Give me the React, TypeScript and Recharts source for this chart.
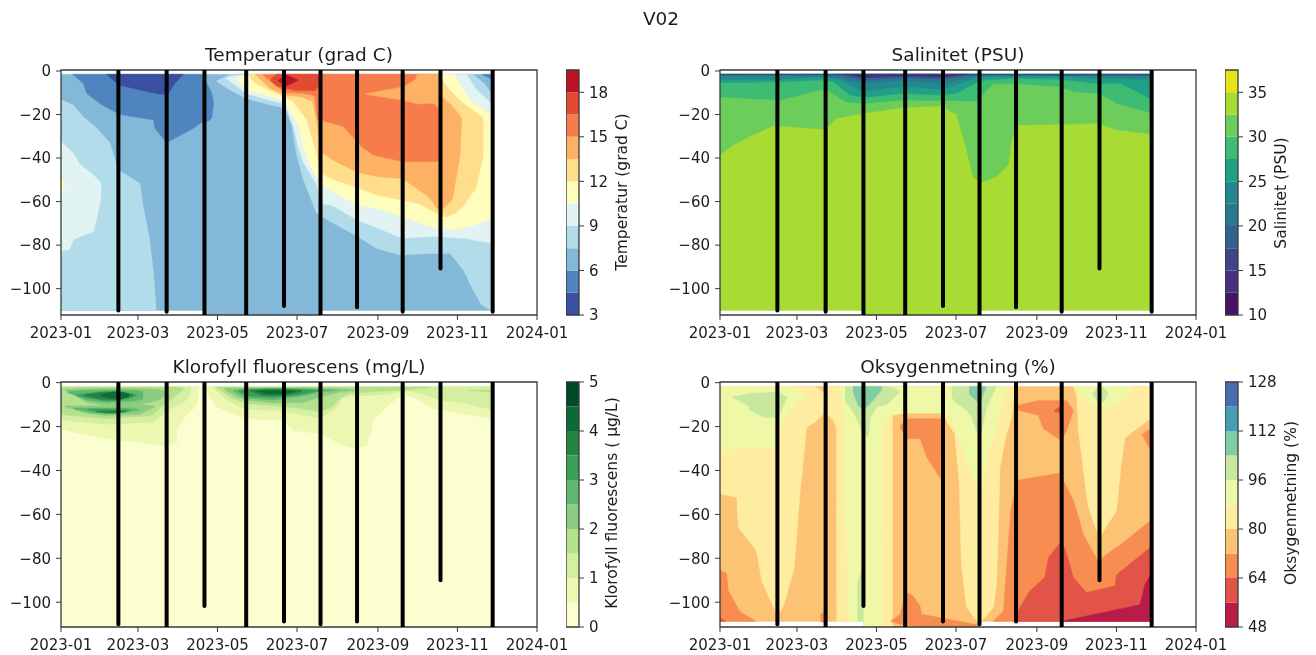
import { Area, ComposedChart, Line, ReferenceArea, XAxis, YAxis } from "recharts";

type Row = [number, number, number]; // day of 2023, top depth, bottom depth

const monthDays = [0, 59, 120, 181, 243, 304, 365];
const monthLabels = ["2023-01", "2023-03", "2023-05", "2023-07", "2023-09", "2023-11", "2024-01"];
const depthTicks = [-100, -80, -60, -40, -20, 0];
const castDays = [44, 81, 110, 142, 171, 199, 227, 262, 291, 331];
const castTops = [0, 0, 0, 0.4, 0.4, 0, 0, 0.4, 0, 0.4];
const castBottomsTop = [-110, -110.6, -112.2, -112.2, -108, -112.2, -108.5, -110.6, -90.7, -110.6];
const castBottomsLow = [-110, -111.3, -101.7, -111.3, -108.8, -110, -108.8, -111.3, -90, -111.3];

const tempColors = ["#3b4fa1", "#4f85bf", "#83b8d8", "#b3dcea", "#e2f3f3", "#fefdbd", "#fedd8b", "#fdb163", "#f67c4b", "#e14a33", "#b91326"];
const tempLevels = [3, 4.5, 6, 7.5, 9, 10.5, 12, 13.5, 15, 16.5, 18, 19.5];
const tempTicks = [3, 6, 9, 12, 15, 18];
const salColors = ["#471365", "#47307f", "#414488", "#33638d", "#2a788e", "#23898e", "#1fa187", "#3fbc73", "#6ccd5a", "#a8db34", "#e5e419"];
const salLevels = [10, 12.5, 15, 17.5, 20, 22.5, 25, 27.5, 30, 32.5, 35, 37.5];
const salTicks = [10, 15, 20, 25, 30, 35];
const chlColors = ["#fbfecf", "#ecf8b1", "#d5efa0", "#b5e08e", "#8bcd80", "#5eb86f", "#39a056", "#258340", "#0b6b37", "#004a29"];
const chlLevels = [0, 0.5, 1, 1.5, 2, 2.5, 3, 3.5, 4, 4.5, 5];
const chlTicks = [0, 1, 2, 3, 4, 5];
const oxyColors = ["#b81c48", "#e35448", "#f88d51", "#fdc374", "#feeda1", "#eff8a7", "#c7e89e", "#80cca5", "#459eb3", "#4a6cb0"];
const oxyLevels = [48, 56, 64, 72, 80, 88, 96, 104, 112, 120, 128];
const oxyTicks = [48, 64, 80, 96, 112, 128];

// Temperatur
const tempBase: Row[] = [[0, -1.5, -110], [110, -1.5, -110], [110.5, -1.5, -112.2], [199, -1.5, -112.2], [199.5, -1.5, -110], [330, -1.5, -110]];
const tempLightLeft: Row[] = [[0, -13.3, -110], [9.5, -15.6, -110], [17, -21, -110], [27, -26, -110], [37.5, -33, -110], [44, -45.5, -110], [60.6, -51.6, -110], [63, -62, -110], [68, -77.6, -110], [71, -93, -110], [73, -110, -110]];
const tempPaleLeft: Row[] = [[0, -32.5, -82.7], [6.4, -36, -82], [9.5, -37.8, -77.6], [14.6, -43, -76], [24.8, -47.8, -73.8], [26, -48.5, -71], [30, -51, -61], [31, -52.4, -52.4]];
const tempYellowLeft: Row[] = [[0, -48.5, -56.2], [3.6, -52.4, -52.4]];
const tempBlue: Row[] = [[9, -1.5, -1.5], [17, -1.5, -5.7], [19.7, -1.5, -10.3], [30, -1.5, -15], [39, -1.5, -18], [45, -1.5, -20], [71, -1.5, -22.5], [72, -1.5, -26.3], [81, -1.5, -33], [101.5, -1.5, -26.3], [108, -1.5, -23.5], [113, -7, -23], [115.5, -10, -21.7], [117, -14, -15]];
const tempDark: Row[] = [[35, -1.5, -1.5], [44, -1.5, -6.4], [60.6, -1.5, -8.7], [76, -1.5, -10.7], [82, -1.5, -10.6], [87.4, -1.5, -5.7], [93.8, -1.5, -1.5]];
const tempLight: Row[] = [[119.4, -4.5, -4.9], [129.6, -1.5, -8.7], [141.9, -1.5, -12.6], [160.3, -1.5, -15.6], [171.8, -1.5, -17], [176.9, -1.5, -24.8], [180.7, -1.5, -38.6], [185.8, -1.5, -50], [196, -1.5, -65.4], [208.8, -1.5, -70], [225.5, -1.5, -75.3], [242, -1.5, -81.5], [260, -1.5, -84.5], [285.5, -1.5, -83.8], [298.3, -1.5, -83.8], [308.5, -1.5, -91.4], [316, -1.5, -100.6], [322, -4.5, -107], [325, -6, -108.3], [330, -10.3, -110]];
const tempPale: Row[] = [[127, -3, -3.5], [141.9, -1.5, -10.3], [160.3, -1.5, -13.5], [171.8, -1.5, -15], [178, -1.5, -25], [182, -1.5, -35], [185.8, -1.5, -42], [196, -1.5, -52], [199, -1.5, -60.8], [208.8, -1.5, -62], [227, -1.5, -68.5], [242, -1.5, -72], [262, -1.5, -76.8], [285, -1.5, -76], [311, -1.5, -77], [318.8, -8.7, -78], [330, -14.9, -79]];
const tempYellow: Row[] = [[135, -3.5, -4], [142, -1.5, -8.7], [160.3, -1.5, -11.5], [171.8, -1.5, -14], [182, -1.5, -25], [185.8, -1.5, -35], [191, -1.5, -43.5], [196, -1.5, -48.5], [199, -1.5, -53], [208.8, -1.5, -55.5], [227, -1.5, -61.5], [242, -1.5, -63], [262, -1.5, -67], [285.5, -1.5, -72], [302, -1.5, -73], [308.5, -8.7, -72], [316.2, -14.9, -71], [330, -19.8, -67.7]];
const tempSand: Row[] = [[143.7, -1.5, -1.5], [147.5, -1.5, -5], [160.3, -1.5, -9], [171.8, -1.5, -12], [178, -1.5, -14], [188, -1.5, -22], [196, -1.5, -38], [199, -1.5, -47], [208.8, -1.5, -50], [227, -1.5, -53.5], [242, -1.5, -57], [262, -1.5, -59.5], [275, -1.5, -61], [289.4, -1.5, -66], [291, -3, -67], [295.8, -7.2, -67], [303.4, -12, -65], [308.5, -14.9, -62], [318, -19, -54], [323.9, -21.7, -39]];
const tempOrange: Row[] = [[148.8, -1.5, -1.5], [160.3, -1.5, -8], [171.8, -1.5, -11], [185, -1.5, -12], [193, -1.5, -14], [196, -1.5, -23], [199, -1.5, -37], [208.8, -1.5, -41], [227, -1.5, -46.5], [242, -1.5, -48.5], [262, -1.5, -49.5], [280, -1.5, -57], [282, -7, -58], [289, -10.5, -63.5], [291, -11, -64.6], [300, -16, -59.3], [305.9, -20.5, -39.4], [307.3, -21.7, -22.5]];
const tempRed: Row[] = [[155, -1.7, -2], [163, -1.5, -6], [171.8, -1.5, -9.8], [188.4, -1.5, -10.5], [194.8, -1.5, -11.5], [196.5, -1.5, -22.5], [199, -1.5, -22.5], [216.5, -1.5, -25.5], [230.6, -1.5, -34.8], [239.5, -1.5, -38.6], [261.8, -1.5, -41.6], [289.4, -1.5, -41.6], [291, -1.5, -40], [291.5, -1.5, -18]];
const tempWedge: Row[] = [[233.8, -10.4, -10.7], [263, -7.2, -13.5], [272, -3.8, -15], [273, -1.5, -15.2], [285.5, -1.5, -14.8], [291.5, -1.5, -18]];
const tempHot: Row[] = [[161, -3.5, -4.5], [165.5, -1.5, -7], [180, -1.5, -9], [195, -1.5, -9], [198.7, -1.5, -6], [200, -1.5, -1.5]];
const tempPeak: Row[] = [[166.6, -4.4, -4.6], [171.8, -1.8, -6.7], [173, -1.8, -6.9], [181.8, -4.1, -4.3]];
const tempCorner: Row[] = [[322.6, -1.5, -1.5], [330, -1.5, -3.8]];
const tempLayers: [number, Row[]][] = [[2, tempBase], [3, tempLightLeft], [4, tempPaleLeft], [5, tempYellowLeft], [1, tempBlue], [0, tempDark], [3, tempLight], [4, tempPale], [5, tempYellow], [6, tempSand], [7, tempOrange], [8, tempRed], [7, tempWedge], [9, tempHot], [10, tempPeak], [1, tempCorner]];

// Salinitet
const salBase: Row[] = [[0, -1.5, -110], [110, -1.5, -110], [110.5, -1.5, -112.2], [199, -1.5, -112.2], [199.5, -1.5, -110], [330, -1.5, -110]];
const sal30: Row[] = [[0, -1.5, -38.6], [10, -1.5, -34], [23, -1.5, -30], [41, -1.5, -25], [80.5, -1.5, -26.8], [89.5, -1.5, -21.7], [110, -1.5, -19.4], [140.6, -1.5, -16.8], [168.7, -1.5, -16], [181.5, -1.5, -20], [189, -1.5, -36], [194, -1.5, -48.5], [199.4, -1.5, -51.3], [212, -1.5, -48.5], [221, -1.5, -43], [223.7, -1.5, -31.7], [226, -1.5, -28.6], [229, -1.5, -24.8], [261, -1.5, -24.5], [290, -1.5, -24], [304, -1.5, -27], [330, -1.5, -29]];
const sal27: Row[] = [[0, -1.5, -12], [46, -1.5, -13.3], [76.7, -1.5, -8.7], [82, -1.5, -8.7], [97, -1.5, -14.2], [110, -1.5, -14.9], [140, -1.5, -13.3], [196.8, -1.5, -13.8], [202, -1.5, -10.3], [207, -1.5, -7.2], [209.6, -1.5, -6], [225, -1.5, -5.7], [261, -1.5, -7.2], [271, -1.5, -9.5], [291.4, -1.5, -10.3], [304, -1.5, -14.9], [330, -1.5, -19.1]];
const sal25: Row[] = [[0, -1.5, -5.4], [46, -1.5, -4.9], [79, -1.5, -4.1], [87, -1.5, -4.9], [99.7, -1.5, -11], [110, -1.5, -12.2], [140.6, -1.5, -10.3], [171, -1.5, -11], [181, -1.5, -10.3], [198, -1.5, -4.9], [204.5, -1.5, -4], [225, -1.5, -3.4], [261, -1.5, -3.8], [289, -1.5, -5.7], [307, -1.5, -5.7], [330, -1.5, -12.6]];
const sal22: Row[] = [[0, -1.5, -3.8], [46, -1.5, -3.8], [79, -1.5, -2.6], [92, -1.5, -4], [110, -1.5, -9.5], [140.6, -1.5, -7], [171, -1.5, -8.4], [184, -1.5, -5.7], [198, -1.5, -2.6], [261, -1.5, -2.3], [289, -1.5, -3.4], [330, -1.5, -3.8]];
const sal20: Row[] = [[0, -1.5, -2.2], [79, -1.5, -2], [94.6, -1.5, -3.4], [110, -1.5, -5.7], [140.6, -1.5, -4.1], [171, -1.5, -5.7], [186, -1.5, -3.4], [198, -1.5, -2], [330, -1.5, -2.2]];
const sal17: Row[] = [[88, -1.5, -1.5], [110, -1.5, -4.4], [140.6, -1.5, -3], [171, -1.5, -4], [190, -1.5, -2], [200, -1.5, -1.5]];
const sal15: Row[] = [[0, -1.5, -1.8], [330, -1.5, -1.9]];
const sal12: Row[] = [[95, -1.5, -1.5], [110, -1.5, -3.2], [140, -1.5, -2.3], [171, -1.5, -3], [190, -1.5, -1.5]];
const salLayers: [number, Row[]][] = [[9, salBase], [8, sal30], [7, sal27], [6, sal25], [5, sal22], [4, sal20], [3, sal17], [2, sal15], [1, sal12]];

// Klorofyll
const chlBase: Row[] = [[0, -1.7, -111.4], [330, -1.7, -111.4]];
const chlWinter1: Row[] = [[0, -1.7, -21], [9.5, -1.7, -22.5], [35, -1.7, -25.6], [60.6, -1.7, -27], [81, -1.7, -29], [88.7, -1.7, -27.5], [89, -1.7, -21], [93.8, -1.7, -16.4], [104, -1.7, -10.4], [105.3, -1.7, -7]];
const chlSummer1: Row[] = [[111.7, -1.7, -2], [113, -1.7, -5.8], [119.4, -1.7, -11], [142, -1.7, -16.4], [171, -1.7, -17.2], [178, -1.7, -21.8], [199, -1.7, -23.3], [216.5, -1.7, -28.6], [225.5, -1.7, -30], [234.4, -1.7, -28.6], [238, -1.7, -21], [239.5, -1.7, -17], [249.7, -1.7, -11], [261.8, -1.7, -5], [270, -1.7, -6.5], [285.5, -1.7, -11.9], [330, -1.7, -16.4]];
const chlWinter2: Row[] = [[0, -1.7, -17], [35, -1.7, -19], [70.8, -1.7, -18], [82, -1.7, -12.6], [94, -1.7, -9], [99, -1.7, -6], [99.5, -1.7, -2.3]];
const chlSummer2: Row[] = [[117, -1.7, -2.5], [127, -1.7, -8], [142, -1.7, -12.3], [163, -1.7, -12.6], [181, -1.7, -14], [199, -1.7, -16.4], [212, -1.7, -11], [216, -1.7, -7], [227, -1.7, -6], [250, -1.7, -5.5], [262, -1.7, -3.5], [270, -1.7, -4], [291, -1.7, -8], [311, -1.7, -9.6], [330, -1.7, -12.3]];
const chlWinter3: Row[] = [[0, -2, -14.5], [35, -2, -16.4], [70, -2, -15], [78, -2, -10.4], [88, -2, -6], [94, -2.5, -3]];
const chlSummer3: Row[] = [[119, -2, -2.2], [129.6, -2, -6.5], [142, -2, -9.6], [163, -2, -10.4], [186, -2, -11.9], [199, -2, -13.4], [208, -2, -11], [214, -2, -7], [220, -2, -5], [240, -2, -4], [262, -2, -3.6], [283, -2, -2.2]];
const chlLate3: Row[] = [[313, -3.3, -3.5], [330, -3.3, -4.5]];
const chlUpper4: Row[] = [[3, -3, -3.5], [20, -2.7, -9], [35, -2.7, -10.5], [60, -2.7, -10], [75, -3, -8], [80, -4, -6]];
const chlLower4: Row[] = [[3, -10.5, -11], [20, -10.5, -14], [35, -10.5, -15], [60, -10, -14.5], [72, -10.5, -11]];
const chlSummer4: Row[] = [[125, -2.5, -3], [135, -2.5, -6.5], [142, -2.3, -8], [163, -2.3, -9.3], [186, -2.3, -9], [199, -2.5, -6.5], [214, -2.7, -4.3], [228, -3.2, -3.5]];
const chlUpper5: Row[] = [[5, -4, -4.5], [20, -3.5, -8], [35, -3.3, -9], [55, -3.5, -8.5], [63, -4, -7.5]];
const chlLower5: Row[] = [[10, -11.5, -12], [25, -11.5, -13.8], [35, -11.5, -14.3], [50, -11.5, -13.5], [60, -12, -12.5]];
const chlSummer5: Row[] = [[132, -3.5, -3.8], [142, -2.8, -7], [163, -2.5, -8], [186, -2.8, -6], [199, -3, -4], [212, -3.5, -3.7]];
const chlUpper6: Row[] = [[12, -5.5, -6], [25, -4.5, -7.5], [35, -4, -8.5], [50, -4.5, -7.5], [58, -5.5, -6]];
const chlLower6: Row[] = [[21, -12, -12.5], [35, -12, -14], [52, -12.5, -13]];
const chlSummer6: Row[] = [[136, -3.8, -4], [145, -3, -6.2], [163, -2.8, -6.8], [180, -3, -5.8], [199, -3.5, -3.7]];
const chlUpper7: Row[] = [[18, -5.5, -6], [30, -4.5, -7.5], [44, -4, -8], [55, -5.5, -6]];
const chlLower7: Row[] = [[27, -13, -13.3], [40, -12.7, -13.9], [50, -13, -13.3]];
const chlSummer7: Row[] = [[145, -3.5, -4], [155, -3.2, -5.8], [170, -3, -6], [185, -3.5, -4.2]];
const chlUpper8: Row[] = [[31, -5.5, -6], [38, -4.5, -7], [44, -4, -7.5], [52, -5, -6.5]];
const chlSummer8: Row[] = [[150, -3.8, -4], [160, -3.6, -5.2], [170, -3.6, -5.2], [180, -3.8, -4]];
const chlLayers: [number, Row[]][] = [[0, chlBase], [1, chlWinter1], [1, chlSummer1], [2, chlWinter2], [2, chlSummer2], [3, chlWinter3], [3, chlSummer3], [3, chlLate3], [4, chlUpper4], [4, chlLower4], [4, chlSummer4], [5, chlUpper5], [5, chlLower5], [5, chlSummer5], [6, chlUpper6], [6, chlLower6], [6, chlSummer6], [7, chlUpper7], [7, chlLower7], [7, chlSummer7], [8, chlUpper8], [8, chlSummer8]];

// Oksygenmetning
const oxyBase: Row[] = [[0, -1.7, -108.8], [110, -1.7, -108.8], [110.5, -1.7, -111.3], [199.5, -1.7, -111.3], [200, -1.7, -108.8], [330, -1.7, -108.8]];
const oxyOrangeLeft: Row[] = [[0, -85.4, -108.8], [5.1, -86.9, -108.8], [6.4, -94.8, -108.8], [15.3, -104.3, -108.8], [28, -108.8, -108.8]];
const oxyRedLeft: Row[] = [[0, -107, -108.8], [4.6, -108.8, -108.8]];
const oxyOrangeMar: Row[] = [[77, -105.5, -108.8], [80.5, -104, -109.5], [81, -104, -109.5]];
const oxyYellowA: Row[] = [[0, -1.7, -50.7], [12.8, -1.7, -52.2], [14, -1.7, -65.9], [28, -1.7, -76.6], [32, -1.7, -90.3], [44, -1.7, -106.2], [48.6, -1.7, -101.7], [55, -1.7, -88.7], [57, -1.7, -84], [57.5, -1.7, -79.6], [61.3, -1.7, -50.7], [66.5, -1.7, -20.2], [72.9, -1.7, -18], [79.8, -1.7, -14.2], [83, -1.7, -14.9], [87, -1.7, -17], [89.2, -1.7, -20.5], [89.5, -1.7, -108.8], [110, -1.7, -108.8], [110.5, -1.7, -111.3], [132.4, -1.7, -111.3]];
const oxySandCap: Row[] = [[72.9, -1.7, -1.7], [79.8, -1.7, -4.3]];
const oxyYellowC: Row[] = [[170, -1.7, -13.9], [180, -1.7, -23.3], [183.5, -1.7, -46], [185, -1.7, -82.6], [189, -1.7, -102.4], [198, -1.7, -109.3], [199.4, -1.7, -109.6], [209.6, -1.7, -102.4], [212, -1.7, -91.8], [213.4, -1.7, -70], [214.7, -1.7, -38.5], [218.6, -1.7, -26], [222.4, -1.7, -18], [223.7, -1.7, -15.7], [226.2, -1.7, -2]];
const oxyYellowD: Row[] = [[271, -1.7, -2], [273.5, -1.7, -5.8], [274.8, -1.7, -21.8], [280, -1.7, -46.1], [282.5, -1.7, -56.8], [290, -1.7, -69.3], [292.7, -1.7, -69], [304, -1.7, -58.3], [308, -1.7, -35.5], [310.6, -1.7, -25.1], [319.5, -1.7, -21], [330, -1.7, -16.4]];
const oxyLimeA: Row[] = [[0, -1.7, -30.6], [44, -1.7, -29.4], [45, -1.7, -21.8], [52.4, -1.7, -14.2], [55, -1.7, -11.9], [57.5, -2.3, -10.4], [61.3, -4.3, -8.1], [66, -5.8, -6.1]];
const oxyLimeB: Row[] = [[92, -1.7, -2], [94.6, -1.7, -17.2], [97, -1.7, -76.6], [98.4, -1.7, -108.8], [110, -1.7, -108.8], [110.5, -1.7, -111.1], [124, -1.7, -111.1], [124.2, -1.7, -20.2], [131.6, -1.7, -14.9], [141.9, -1.7, -13.9], [170, -1.7, -13.9], [175, -1.7, -14.2], [180, -1.7, -20.2], [189, -1.7, -35.5], [196.8, -1.7, -46.1], [201.4, -1.7, -49], [204.5, -1.7, -35.5], [212, -1.7, -21], [218.6, -1.7, -5], [221, -1.7, -1.7]];
const oxyLimeD: Row[] = [[274, -1.7, -2.7], [274.8, -1.7, -5], [286.3, -1.7, -10.4], [297.8, -1.7, -11.9], [309.3, -1.7, -8.1], [314.4, -1.7, -5], [315.7, -1.7, -1.7]];
const oxyGreenA: Row[] = [[8.9, -6.5, -6.7], [21.7, -5, -10.4], [23, -4.9, -12.6], [33.2, -4.6, -15.7], [44, -4.3, -16.1], [51.6, -6.5, -6.8]];
const oxyGreenB: Row[] = [[95.9, -1.7, -8.1], [98.4, -1.7, -10.4], [103.5, -1.7, -14.9], [110, -1.7, -23.3], [113.8, -1.7, -24.8], [115.5, -1.7, -15.7], [120, -1.7, -11.1], [127.8, -1.7, -10], [134, -2.3, -6.5], [137.5, -3.8, -4.4]];
const oxyGreenC: Row[] = [[177.7, -1.7, -6.5], [180, -1.7, -8.8], [189, -1.7, -12.6], [193, -1.7, -15.7], [198, -1.7, -24], [200, -1.7, -23.3], [204.5, -1.7, -11.1], [212, -1.7, -2]];
const oxyGreenD: Row[] = [[285.8, -5, -5.3], [288.9, -2.3, -8.1], [291.4, -1.7, -9.6], [295, -2.7, -8.1], [297.8, -5, -5.3]];
const oxyGreenDeep: Row[] = [[105.3, -91.8, -108.8], [110, -82.6, -108.8]];
const oxyTealB: Row[] = [[102, -1.7, -4.3], [106, -1.7, -10.4], [110, -1.7, -12.6], [116.3, -1.7, -8.8], [124, -1.7, -3.2]];
const oxyTealC: Row[] = [[191, -1.7, -5], [195.6, -1.7, -7.8], [199, -1.7, -9.6], [204, -1.7, -2]];
const oxyOrangeJun: Row[] = [[138, -19.7, -20.4], [143, -16.4, -25.6], [153.4, -16.4, -25.6], [158.5, -16.4, -33.9], [169, -16.4, -43.8], [170, -16.4, -16.6]];
const oxyOrangeLow: Row[] = [[131, -108.5, -108.8], [138, -105.5, -110], [142.6, -95.6, -110.5], [148, -97.1, -110.8], [153.4, -101.7, -111], [154.7, -105.5, -111], [168.7, -107, -111.1], [198, -110.4, -111.3]];
const oxyOrangeSep: Row[] = [[227.5, -10.4, -12.3], [244, -8.1, -14.9], [248, -8.1, -21], [260.7, -8.1, -26], [262, -8.1, -26.3], [265.8, -8.1, -21.8], [271, -12.6, -12.9]];
const oxyRedSep: Row[] = [[256.3, -12.6, -13], [262, -10.4, -14.2]];
const oxyOrangeBig: Row[] = [[209.6, -108.5, -108.8], [217.3, -104, -108.8], [222.9, -58.3, -108.8], [225, -52.2, -108.8], [228.8, -44.3, -108.8], [260.7, -41.2, -108.8], [263.3, -44.6, -108.8], [271, -53.7, -108.8], [273.5, -58.3, -108.8], [278.6, -69, -108.8], [290, -81.4, -108.8], [296.5, -78, -108.8], [306.8, -74, -108.8], [322, -66.7, -108.8], [330, -62.9, -108.8]];
const oxyRedBig: Row[] = [[226.2, -106.2, -108.8], [237.7, -94.8, -108.8], [249, -88.7, -108.8], [251.8, -79.6, -108.8], [262, -72, -108.8], [265.8, -78, -108.8], [271, -88.7, -108.8], [281, -95.6, -108.8], [302.9, -92.5, -108.8], [304, -87.5, -108.8], [330, -75, -108.8]];
const oxyCrimson: Row[] = [[260.7, -108.8, -108.8], [322, -101.2, -108.8], [325.9, -91.8, -108.8], [330, -87.5, -108.8]];
const oxyOrangeNov: Row[] = [[324, -23.5, -24], [328.4, -21.5, -29], [330, -22, -30]];
const oxyLayers: [number, Row[]][] = [[3, oxyBase], [2, oxyOrangeLeft], [1, oxyRedLeft], [2, oxyOrangeMar], [4, oxyYellowA], [3, oxySandCap], [4, oxyYellowC], [4, oxyYellowD], [5, oxyLimeA], [5, oxyLimeB], [5, oxyLimeD], [6, oxyGreenA], [6, oxyGreenB], [6, oxyGreenC], [6, oxyGreenD], [6, oxyGreenDeep], [7, oxyTealB], [7, oxyTealC], [2, oxyOrangeJun], [2, oxyOrangeLow], [2, oxyOrangeSep], [1, oxyRedSep], [2, oxyOrangeBig], [1, oxyRedBig], [0, oxyCrimson], [2, oxyOrangeNov]];

const FONT = "DejaVu Sans, sans-serif";
const tickStyle = { fontSize: 15, fill: "#1c1c1c", fontFamily: FONT };
const SPINE = "#3a3a3a";

const minus = (v: number) => String(v).replace("-", "\u2212");

function Panel({ left, top, layers, colors, castBottoms, yDomain }: any) {
  const plotH = 245;
  return (
    <div style={{ position: "absolute", left: left - 60, top: top - 10 }}>
      <ComposedChart width={576} height={plotH + 40} margin={{ top: 10, right: 40, bottom: 0, left: 0 }}>
        <XAxis
          xAxisId={0}
          type="number"
          dataKey="day"
          domain={[0, 365]}
          ticks={monthDays}
          interval={0}
          allowDataOverflow
          axisLine={false}
          tickSize={5}
          tickMargin={7}
          tickLine={{ stroke: SPINE }}
          tick={tickStyle}
          height={30}
          tickFormatter={(v: number) => monthLabels[monthDays.indexOf(v)]}
        />
        <YAxis
          yAxisId={0}
          type="number"
          domain={yDomain}
          ticks={depthTicks}
          interval={0}
          allowDataOverflow
          axisLine={false}
          tickSize={5}
          tickMargin={5}
          tickLine={{ stroke: SPINE }}
          tick={tickStyle}
          width={60}
          tickFormatter={minus}
        />
        {layers.map(([c, rows]: [number, Row[]], i: number) => (
          <Area
            key={i}
            data={rows.map(([day, a, b]) => ({ day, range: [a, b] }))}
            dataKey="range"
            type="linear"
            fill={colors[c]}
            fillOpacity={1}
            stroke={colors[c]}
            strokeWidth={0.4}
            dot={false}
            activeDot={false}
            isAnimationActive={false}
          />
        ))}
        {castDays.map((d, i) => (
          <Line
            key={d}
            data={[
              { day: d, depth: castTops[i] },
              { day: d, depth: castBottoms[i] },
            ]}
            dataKey="depth"
            type="linear"
            stroke="#000"
            strokeWidth={4}
            strokeLinecap="round"
            dot={false}
            activeDot={false}
            isAnimationActive={false}
          />
        ))}
        <ReferenceArea x1={0} x2={365} y1={yDomain[0]} y2={yDomain[1]} fill="none" stroke={SPINE} strokeWidth={1.3} ifOverflow="extendDomain" />
      </ComposedChart>
    </div>
  );
}

function ColorBar({ left, top, levels, colors, ticks }: any) {
  const first = levels[0];
  const last = levels[levels.length - 1];
  return (
    <div style={{ position: "absolute", left, top: top - 10 }}>
      <ComposedChart width={62} height={265} margin={{ top: 10, right: 0, bottom: 10, left: 0 }}>
        <XAxis type="number" dataKey="x" domain={[0, 1]} hide />
        <YAxis
          orientation="right"
          type="number"
          domain={[first, last]}
          ticks={ticks}
          interval={0}
          allowDataOverflow
          axisLine={false}
          tickSize={5}
          tickMargin={5}
          tickLine={{ stroke: SPINE }}
          tick={tickStyle}
          width={49}
        />
        {colors.map((c: string, i: number) => (
          <Area
            key={c}
            data={[
              { x: 0, range: [levels[i], levels[i + 1]] },
              { x: 1, range: [levels[i], levels[i + 1]] },
            ]}
            dataKey="range"
            type="linear"
            fill={c}
            fillOpacity={1}
            stroke="none"
            dot={false}
            activeDot={false}
            isAnimationActive={false}
          />
        ))}
        <ReferenceArea x1={0} x2={1} y1={first} y2={last} fill="none" stroke={SPINE} strokeWidth={1.3} />
      </ComposedChart>
    </div>
  );
}

function Caption({ x, y, size, rotate, children }: any) {
  return (
    <div
      style={{
        position: "absolute",
        left: x,
        top: y,
        transform: `translate(-50%, -50%)${rotate ? " rotate(-90deg)" : ""}`,
        fontFamily: FONT,
        fontSize: size,
        color: "#1c1c1c",
        whiteSpace: "nowrap",
      }}
    >
      {children}
    </div>
  );
}

export default function App() {
  const topDomain = [-112.1, 0.46];
  const lowDomain = [-111.3, 0.3];
  return (
    <div style={{ position: "absolute", left: 0, top: 0, width: 1316, height: 655, background: "#fff", overflow: "hidden", filter: "blur(0.35px)" }}>
      <Caption x={661} y={18} size={18.5}>V02</Caption>
      <Caption x={299} y={54} size={18.5}>Temperatur (grad C)</Caption>
      <Caption x={958} y={54} size={18.5}>Salinitet (PSU)</Caption>
      <Caption x={299} y={366} size={18.5}>Klorofyll fluorescens (mg/L)</Caption>
      <Caption x={958} y={366} size={18.5}>Oksygenmetning (%)</Caption>

      <Panel left={61} top={70} layers={tempLayers} colors={tempColors} castBottoms={castBottomsTop} yDomain={topDomain} />
      <Panel left={720} top={70} layers={salLayers} colors={salColors} castBottoms={castBottomsTop} yDomain={topDomain} />
      <Panel left={61} top={381.7} layers={chlLayers} colors={chlColors} castBottoms={castBottomsLow} yDomain={lowDomain} />
      <Panel left={720} top={381.7} layers={oxyLayers} colors={oxyColors} castBottoms={castBottomsLow} yDomain={lowDomain} />

      <ColorBar left={566} top={70} levels={tempLevels} colors={tempColors} ticks={tempTicks} />
      <ColorBar left={1225} top={70} levels={salLevels} colors={salColors} ticks={salTicks} />
      <ColorBar left={566} top={381.7} levels={chlLevels} colors={chlColors} ticks={chlTicks} />
      <ColorBar left={1225} top={381.7} levels={oxyLevels} colors={oxyColors} ticks={oxyTicks} />

      <Caption x={622} y={192} size={15.5} rotate>Temperatur (grad C)</Caption>
      <Caption x={1281} y={193} size={15.5} rotate>Salinitet (PSU)</Caption>
      <Caption x={612} y={503} size={15.5} rotate>Klorofyll fluorescens ( µg/L)</Caption>
      <Caption x={1291} y={503} size={15.5} rotate>Oksygenmetning (%)</Caption>
    </div>
  );
}
